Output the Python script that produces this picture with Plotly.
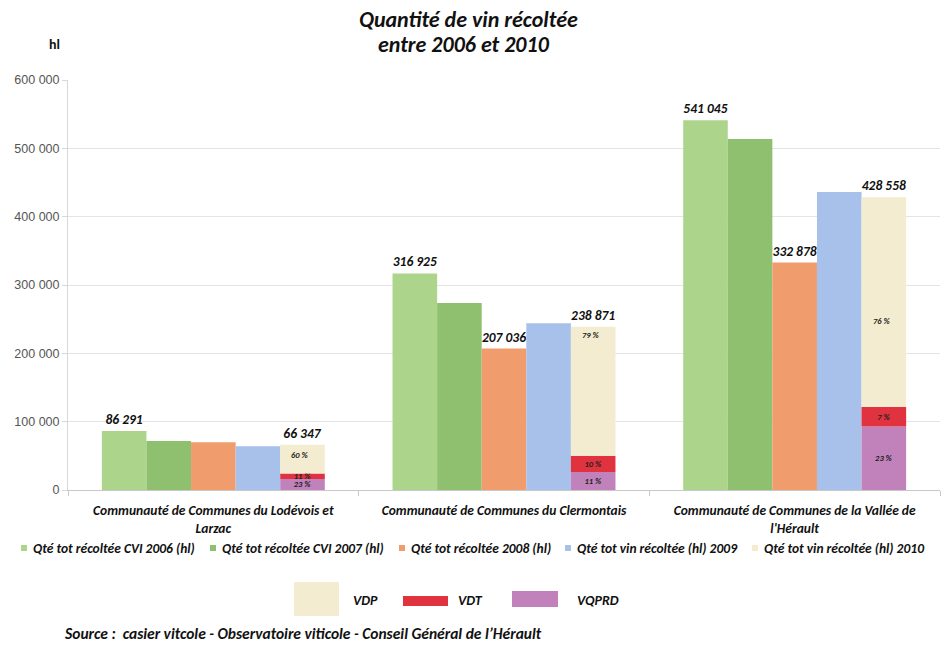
import plotly.graph_objects as go

# ---- data -------------------------------------------------------------
communes = [
    "Communauté de Communes du Lodévois et<br>Larzac",
    "Communauté de Communes du Clermontais",
    "Communauté de Communes de la Vallée de<br>l'Hérault",
]
qte_2006 = [86291, 316925, 541045]
qte_2007 = [71700, 273700, 513700]
qte_2008 = [70000, 207036, 332878]
qte_2009 = [64000, 244000, 436000]
qte_2010 = [66347, 238871, 428558]

# shares of the 2010 harvest by wine category (percent)
pct_vqprd = [23, 11, 23]
pct_vdt = [11, 10, 7]
pct_vdp = [60, 79, 76]

series_names = [
    "Qté tot récoltée CVI 2006 (hl)",
    "Qté tot récoltée CVI 2007 (hl)",
    "Qté tot récoltée 2008 (hl)",
    "Qté tot vin récoltée (hl) 2009",
    "Qté tot vin récoltée (hl) 2010",
]
category_names = ["VDP", "VDT", "VQPRD"]

# ---- styling ----------------------------------------------------------
C2006, C2007, C2008, C2009 = "#acd58b", "#8fc06f", "#f09c6d", "#a7c1ea"
CVDP, CVDT, CVQPRD = "#f3ecd0", "#e0333f", "#c182bb"
FONT = "Carlito, Lato, 'Open Sans', sans-serif"
AXISFONT = "'Liberation Sans', Arial, sans-serif"


def fmt(v):
    return f"{v:,}".replace(",", " ")


# split each 2010 total according to its category shares
vqprd, vdt, vdp = [], [], []
for tot, a, b, c in zip(qte_2010, pct_vqprd, pct_vdt, pct_vdp):
    s = a + b + c
    vqprd.append(tot * a / s)
    vdt.append(tot * b / s)
    vdp.append(tot * c / s)
base_vdt = vqprd
base_vdp = [a + b for a, b in zip(vqprd, vdt)]

label_font = dict(family=FONT, size=13.5, color="#111111", weight="bold", style="italic")
pct_font = dict(family=FONT, size=8.5, color="#222222", weight="bold", style="italic")

fig = go.Figure()


def year_bar(values, color, group, text=None):
    fig.add_trace(go.Bar(
        x=communes, y=values, offsetgroup=group, marker_color=color,
        marker_line_width=0, showlegend=False, hoverinfo="skip",
        text=text, textposition="outside", textfont=label_font,
        outsidetextfont=label_font, constraintext="none", cliponaxis=False,
    ))


year_bar(qte_2006, C2006, "a", [fmt(v) for v in qte_2006])
year_bar(qte_2007, C2007, "b")
year_bar(qte_2008, C2008, "c", [""] + [fmt(v) for v in qte_2008[1:]])
year_bar(qte_2009, C2009, "d")

# 2010: stacked by wine category
fig.add_trace(go.Bar(
    x=communes, y=vqprd, base=[0, 0, 0], offsetgroup="e", marker_color=CVQPRD,
    marker_line_width=0, showlegend=False, hoverinfo="skip",
    text=[f"{p} %" for p in pct_vqprd], textposition="inside",
    insidetextanchor="middle", insidetextfont=pct_font, textfont=pct_font,
    constraintext="none",
))
fig.add_trace(go.Bar(
    x=communes, y=vdt, base=base_vdt, offsetgroup="e", marker_color=CVDT,
    marker_line_width=0, showlegend=False, hoverinfo="skip",
    text=[f"{p} %" for p in pct_vdt], textposition="inside",
    insidetextanchor="middle", insidetextfont=pct_font, textfont=pct_font,
    constraintext="none",
))
fig.add_trace(go.Bar(
    x=communes, y=vdp, base=base_vdp, offsetgroup="e", marker_color=CVDP,
    marker_line_width=0, showlegend=False, hoverinfo="skip",
    text=[fmt(v) for v in qte_2010], textposition="outside",
    textfont=label_font, outsidetextfont=label_font, constraintext="none",
    cliponaxis=False,
))

# VDP share labels, placed inside the VDP segment
vdp_label_frac = [0.64, 0.94, 0.41]
annotations = []
for i, c in enumerate(communes):
    annotations.append(dict(
        x=c, y=base_vdp[i] + vdp_label_frac[i] * vdp[i], xref="x", yref="y",
        text=f"{pct_vdp[i]} %", showarrow=False, xshift=87,
        xanchor="center", yanchor="middle", font=pct_font,
    ))

# ---- page geometry (pixels) -------------------------------------------
W, H = 944, 646
L, R, T, B = 68, 4, 80, 156
PW, PH = W - L - R, H - T - B


def px(x):
    return (x - L) / PW


def py(y):
    return (H - B - y) / PH


title_font = dict(family=FONT, size=22, color="#111", weight="bold", style="italic")
# titles and unit
annotations += [
    dict(x=px(468), y=py(19), text="Quantité de vin récoltée", font=title_font),
    dict(x=px(464), y=py(45), text="entre 2006 et 2010", font=title_font),
    dict(x=px(54), y=py(45), text="hl",
         font=dict(family=FONT, size=14, color="#111", weight="bold")),
    dict(x=px(62), y=py(633), xanchor="left",
         text="Source :  casier vitcole - Observatoire viticole - Conseil Général de l’Hérault",
         font=dict(family=FONT, size=15.5, color="#111", weight="bold", style="italic")),
]

shapes = []
leg_font = dict(family=FONT, size=13.5, color="#111", weight="bold", style="italic")

# series key (top row)
key_x = [24, 213, 402, 568, 755]
key_colors = [C2006, C2007, C2008, C2009, CVDP]
for xk, col, name in zip(key_x, key_colors, series_names):
    shapes.append(dict(type="rect", xref="paper", yref="paper",
                       x0=px(xk - 3), x1=px(xk + 3), y0=py(551), y1=py(545),
                       fillcolor=col, line_width=0))
    annotations.append(dict(x=px(xk + 7), y=py(548), xanchor="left",
                            text=name, font=leg_font))

# wine-category key (second row)
cat_boxes = [(294, 339, 582, 616, CVDP), (403, 448, 596, 606, CVDT), (512, 558, 591, 607, CVQPRD)]
cat_text_x = [351, 456, 575]
cat_font = dict(family=FONT, size=14, color="#111", weight="bold", style="italic")
for (x0, x1, y0, y1, col), tx, name in zip(cat_boxes, cat_text_x, category_names):
    shapes.append(dict(type="rect", xref="paper", yref="paper",
                       x0=px(x0), x1=px(x1), y0=py(y1), y1=py(y0),
                       fillcolor=col, line_width=0))
    annotations.append(dict(x=px(tx), y=py(600), xanchor="left",
                            text=name, font=cat_font))

for a in annotations:
    a.setdefault("xref", "paper")
    a.setdefault("yref", "paper")
    a.setdefault("showarrow", False)
    a.setdefault("xanchor", "center")
    a.setdefault("yanchor", "middle")

fig.update_layout(
    width=W, height=H,
    margin=dict(l=L, r=R, t=T, b=B),
    paper_bgcolor="white", plot_bgcolor="white",
    barmode="group", bargap=0.233, bargroupgap=0,
    separators=", ",
    annotations=annotations, shapes=shapes,
    showlegend=False,
)
fig.update_xaxes(
    showline=True, linecolor="#c8c8c8", linewidth=1,
    ticks="outside", tickson="boundaries", ticklen=5, tickcolor="#c8c8c8",
    ticklabelstandoff=8,
    tickfont=dict(family=FONT, size=13.5, color="#111", weight="bold", style="italic"),
)
fig.update_yaxes(
    range=[0, 600000], dtick=100000, tickformat=",d",
    showgrid=True, gridcolor="#e4e4e4", gridwidth=1,
    showline=True, linecolor="#d8d8d8", linewidth=1,
    ticks="outside", ticklen=5, tickcolor="#d8d8d8",
    tickfont=dict(family=AXISFONT, size=12.5, color="#555"),
    zeroline=False,
)

fig.write_html("out.html")
